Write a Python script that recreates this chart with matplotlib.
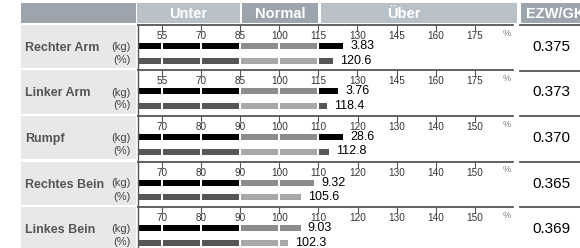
import matplotlib
matplotlib.use("Agg")
import matplotlib.pyplot as plt
from matplotlib.patches import Rectangle

plt.rcParams['font.family'] = ['Liberation Sans', 'DejaVu Sans']

# ---- data ----
segments = ["Rechter Arm", "Linker Arm", "Rumpf", "Rechtes Bein", "Linkes Bein"]
kg_values = [3.83, 3.76, 28.6, 9.32, 9.03]
kg_percent = [124.6, 122.7, 116.4, 109.0, 105.5]   # bar length (% of norm) of kg bar
pct_values = [120.6, 118.4, 112.8, 105.6, 102.3]
ezw_values = [0.375, 0.373, 0.370, 0.365, 0.369]
arm_ticks = [55, 70, 85, 100, 115, 130, 145, 160, 175]
body_ticks = [70, 80, 90, 100, 110, 120, 130, 140, 150]
row_ticks = [arm_ticks, arm_ticks, body_ticks, body_ticks, body_ticks]
arm_normal = (85, 115)
body_normal = (90, 110)
row_normal = [arm_normal, arm_normal, body_normal, body_normal, body_normal]
header_labels = ["Unter", "Normal", "Über", "EZW/GKW"]
unit_labels = ["(kg)", "(%)"]

# ---- layout (pixels) ----
W, H = 580, 248
fig = plt.figure(figsize=(W / 100, H / 100), dpi=100)

def rect_px(x0, y0, x1, y1, color):
    fig.patches.append(Rectangle((x0 / W, 1 - y1 / H), (x1 - x0) / W, (y1 - y0) / H,
                                 transform=fig.transFigure, facecolor=color,
                                 edgecolor='none', zorder=0))

def text_px(x, y, s, **kw):
    fig.text(x / W, 1 - y / H, s, **kw)

dark_hdr = '#9ca5ad'
light_hdr = '#b8c1c8'
# header
rect_px(21, 3, 136, 23, dark_hdr)
rect_px(137, 3, 240, 23, light_hdr)
rect_px(242, 3, 318, 23, dark_hdr)
rect_px(321, 3, 517, 23, light_hdr)
rect_px(521, 3, 580, 23, dark_hdr)
hdr_kw = dict(color='white', fontsize=10.5, fontweight='bold', va='center')
text_px(188, 13.5, header_labels[0], ha='center', **hdr_kw)
text_px(280, 13.5, header_labels[1], ha='center', **hdr_kw)
text_px(404, 13.5, header_labels[2], ha='center', **hdr_kw)
text_px(526, 13.5, header_labels[3], ha='left', clip_on=False, **hdr_kw)

row_h = 45.5
ax_x0, ax_x1 = 138, 513
tick0_px, tick_step_px = 162, 39.1
kg_y, pct_y, bar_h = 21, 35.5, 6

for i, name in enumerate(segments):
    t = 25 + row_h * i
    # label panel
    rect_px(21, t, 136, t + 43, '#e8e8e8')
    text_px(25, t + 23, name, fontsize=9, fontweight='bold', color='#555555',
            va='center', ha='left')
    text_px(131, t + 22, unit_labels[0], fontsize=8, color='#444444', va='center', ha='right')
    text_px(131, t + 35, unit_labels[1], fontsize=8, color='#444444', va='center', ha='right')
    # right panel line and value
    fig.add_artist(plt.Line2D([520 / W, 1], [1 - t / H, 1 - t / H], color='#555555',
                              lw=1.3, transform=fig.transFigure))
    text_px(551, t + 22, f"{ezw_values[i]:.3f}", fontsize=11, color='black',
            ha='center', va='center')

    ticks = row_ticks[i]
    step = ticks[1] - ticks[0]
    xmin = ticks[0] - (tick0_px - ax_x0) / tick_step_px * step
    xmax = ticks[0] + (ax_x1 - tick0_px) / tick_step_px * step
    ax = fig.add_axes([ax_x0 / W, 1 - (t + 44) / H, (ax_x1 - ax_x0) / W, 44 / H])
    ax.set_xlim(xmin, xmax)
    ax.set_ylim(44, 0)
    ax.patch.set_alpha(0)
    for s in ['right', 'bottom']:
        ax.spines[s].set_visible(False)
    ax.spines['top'].set_color('#555555')
    ax.spines['top'].set_linewidth(1.3)
    ax.spines['left'].set_color('#555555')
    ax.spines['left'].set_linewidth(1.0)
    ax.set_yticks([])
    ax.set_xticks(ticks)
    ax.tick_params(axis='x', top=True, bottom=False, labeltop=False, labelbottom=False,
                   direction='in', length=4, width=0.8, color='#555555')
    for tk in ticks:
        ax.text(tk, 11, str(tk), fontsize=7.2, color='#333333', ha='center', va='center')
    ax.text(ticks[-1] + 0.82 * step, 8.5, '%', fontsize=6.5, color='#777777',
            ha='center', va='center')

    lo, hi = row_normal[i]
    gap = step * 2.0 / tick_step_px
    for val, yc, dark, light, lab in [
            (kg_percent[i], kg_y, '#000000', '#8c8c8c', f"{kg_values[i]:g}"),
            (pct_values[i], pct_y, '#565656', '#a8a8a8', f"{pct_values[i]:.1f}")]:
        bounds = [xmin] + [tk for tk in ticks if xmin < tk < val] + [val]
        for a, b in zip(bounds[:-1], bounds[1:]):
            mid = (a + b) / 2
            col = light if lo <= mid <= hi else dark
            left = a + (gap / 2 if a != xmin else gap * 0.6)
            right = b - (gap / 2 if b != val else 0)
            ax.barh(yc, right - left, left=left, height=bar_h, color=col,
                    edgecolor='none')
        ax.annotate(lab, (val, yc), xytext=(5, 0), textcoords='offset points',
                    fontsize=9, va='center', ha='left', color='black')

fig.savefig('out.png', dpi=100)
